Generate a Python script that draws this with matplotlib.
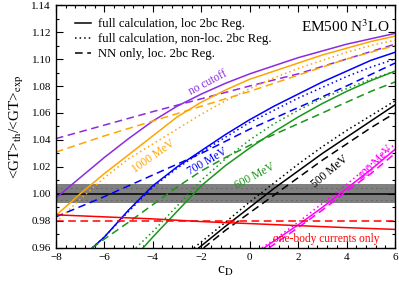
import matplotlib
matplotlib.use("Agg")
import matplotlib.pyplot as plt
from matplotlib.lines import Line2D
from matplotlib.ticker import MultipleLocator

plt.rcParams["font.family"] = ["Liberation Serif", "DejaVu Serif"]
plt.rcParams["mathtext.fontset"] = "stix"

# ---- data ----
# no cutoff (purple)
x_nc = [-8, -7, -6, -5, -4, -3, -2, -1, 0, 1, 2, 3, 4, 5, 6]
y_nc_full = [0.997, 1.012, 1.027, 1.041, 1.054, 1.065, 1.074, 1.082, 1.089, 1.095, 1.101, 1.106, 1.111, 1.115, 1.119]
x_nc_nn = [-8, -6, -4, -2, 0, 2, 4, 6]
y_nc_nn = [1.041, 1.051, 1.061, 1.0705, 1.080, 1.089, 1.100, 1.111]

# 1000 MeV (orange)
x_1000 = [-8, -7, -6, -5, -4, -3, -2, -1, 0, 1, 2, 3, 4, 5, 6]
y_1000_full = [0.984, 1.000, 1.015, 1.029, 1.043, 1.057, 1.068, 1.077, 1.085, 1.091, 1.097, 1.103, 1.108, 1.113, 1.117]
y_1000_nonloc = [0.979, 0.996, 1.012, 1.026, 1.037, 1.048, 1.059, 1.069, 1.078, 1.086, 1.093, 1.099, 1.105, 1.110, 1.114]
x_1000_nn = [-8, -6, -4, -2, 0, 2, 4, 6]
y_1000_nn = [1.031, 1.043, 1.054, 1.065, 1.076, 1.088, 1.100, 1.110]

# 700 MeV (blue)
x_700 = [-6.5, -6, -5, -4, -3, -2, -1, 0, 1, 2, 3, 4, 5, 6]
y_700_full = [0.960, 0.968, 0.988, 1.006, 1.020, 1.032, 1.044, 1.055, 1.065, 1.074, 1.083, 1.091, 1.099, 1.105]
y_700_nonloc = [0.960, 0.968, 0.987, 1.005, 1.019, 1.031, 1.042, 1.053, 1.062, 1.071, 1.079, 1.087, 1.094, 1.100]
x_700_nn = [-8, -6, -4, -2, 0, 2, 4, 6]
y_700_nn = [0.983, 0.998, 1.014, 1.030, 1.048, 1.064, 1.080, 1.097]

# 600 MeV (green)
x_600 = [-4.4, -4, -3, -2, -1, 0, 1, 2, 3, 4, 5, 6]
y_600_full = [0.960, 0.968, 0.987, 1.006, 1.021, 1.034, 1.046, 1.057, 1.067, 1.076, 1.084, 1.091]
x_600_nl = [-4.7, -4, -3, -2, -1, 0, 1, 2, 3, 4, 5, 6]
y_600_nonloc = [0.960, 0.972, 0.991, 1.010, 1.026, 1.040, 1.052, 1.062, 1.071, 1.078, 1.085, 1.091]
x_600_nn = [-6.5, -6, -5, -4, -3, -2, -1, 0, 1, 2, 3, 4, 5, 6]
y_600_nn = [0.960, 0.9665, 0.979, 0.992, 1.005, 1.017, 1.027, 1.036, 1.044, 1.052, 1.060, 1.068, 1.076, 1.083]

# 500 MeV (black)
x_500 = [-2.1, -1, 0, 1, 2, 3, 4, 5, 6]
y_500_full = [0.960, 0.976, 0.990, 1.004, 1.017, 1.030, 1.042, 1.054, 1.066]
x_500_nl = [-2.3, -1, 0, 1, 2, 3, 4, 5, 6]
y_500_nonloc = [0.960, 0.979, 0.994, 1.008, 1.022, 1.035, 1.047, 1.058, 1.069]
x_500_nn = [-1.9, -1, 0, 1, 2, 3, 4, 5, 6]
y_500_nn = [0.960, 0.973, 0.986, 0.999, 1.012, 1.025, 1.037, 1.049, 1.060]

# 400 MeV (magenta)
x_400 = [0.6, 1, 2, 3, 4, 5, 6]
y_400_full = [0.960, 0.965, 0.977, 0.990, 1.004, 1.018, 1.033]
x_400_nl = [0.5, 1, 2, 3, 4, 5, 6]
y_400_nonloc = [0.960, 0.966, 0.979, 0.993, 1.007, 1.022, 1.037]
x_400_nn = [0.8, 2, 3, 4, 5, 6]
y_400_nn = [0.960, 0.975, 0.988, 1.002, 1.015, 1.030]

# one-body currents only (red)
x_1b = [-8, -6, -4, -2, 0, 2, 4, 6]
y_1b_full = [0.9845, 0.983, 0.9815, 0.9795, 0.978, 0.9765, 0.975, 0.9737]
y_1b_nn = [0.980, 0.980, 0.980, 0.980, 0.980, 0.980, 0.980, 0.980]

# experiment band
exp_val = 1.000
exp_err = 0.007

# ---- plot ----
fig = plt.figure(figsize=(3.99, 2.82), dpi=100)
ax = fig.add_axes([0.140, 0.121, 0.850, 0.861])

lw = 1.1
ax.fill_between([-8, 6], exp_val - exp_err, exp_val + exp_err, color="#808080", lw=0, zorder=1)
ax.plot([-8, 6], [exp_val + 0.0045] * 2, color="#404040", lw=0.6, ls=(0, (1, 5)), zorder=1.5)
ax.plot([-8, 6], [exp_val - 0.0045] * 2, color="#404040", lw=0.6, ls=(0, (1, 5)), zorder=1.5)
ax.axhline(exp_val, color="black", lw=lw, zorder=1.6)

purple = "#8a2be2"
orange = "#ffa500"
blue = "#0000ff"
green = "#1a961a"
magenta = "#ff00ff"
red = "#ff0000"
dot = (0, (1, 2))
dash = (0, (5, 3))

ax.plot(x_nc, y_nc_full, color=purple, lw=lw)
ax.plot(x_nc_nn, y_nc_nn, color=purple, lw=lw, ls=dash)

ax.plot(x_1000, y_1000_full, color=orange, lw=lw)
ax.plot(x_1000, y_1000_nonloc, color=orange, lw=lw, ls=dot)
ax.plot(x_1000_nn, y_1000_nn, color=orange, lw=lw, ls=dash)

ax.plot(x_700, y_700_full, color=blue, lw=lw)
ax.plot(x_700, y_700_nonloc, color=blue, lw=lw, ls=dot)
ax.plot(x_700_nn, y_700_nn, color=blue, lw=lw, ls=dash)

ax.plot(x_600, y_600_full, color=green, lw=lw)
ax.plot(x_600_nl, y_600_nonloc, color=green, lw=lw, ls=dot)
ax.plot(x_600_nn, y_600_nn, color=green, lw=lw, ls=dash)

ax.plot(x_500, y_500_full, color="black", lw=lw)
ax.plot(x_500_nl, y_500_nonloc, color="black", lw=lw, ls=dot)
ax.plot(x_500_nn, y_500_nn, color="black", lw=lw, ls=dash)

ax.plot(x_400, y_400_full, color=magenta, lw=lw)
ax.plot(x_400_nl, y_400_nonloc, color=magenta, lw=lw, ls=dot)
ax.plot(x_400_nn, y_400_nn, color=magenta, lw=lw, ls=dash)

ax.plot(x_1b, y_1b_full, color=red, lw=lw)
ax.plot(x_1b, y_1b_nn, color=red, lw=lw, ls=dash)

# curve labels
fs = 8.3
ax.text(-1.72, 1.0822, "no cutoff", color=purple, fontsize=fs, rotation=28, ha="center", va="center")
ax.text(-3.95, 1.028, "1000 MeV", color=orange, fontsize=fs, rotation=35, ha="center", va="center")
ax.text(-1.76, 1.0244, "700 MeV", color=blue, fontsize=fs, rotation=30, ha="center", va="center")
ax.text(0.22, 1.0133, "600 MeV", color=green, fontsize=fs, rotation=28, ha="center", va="center")
ax.text(3.3, 1.0165, "500 MeV", color="black", fontsize=fs, rotation=40, ha="center", va="center")
ax.text(5.2, 1.023, "400 MeV", color=magenta, fontsize=fs, rotation=47, ha="center", va="center", clip_on=True)
ax.text(3.16, 0.9667, "one-body currents only", color=red, fontsize=fs, ha="center", va="center")
ax.text(0.985, 0.91, r"EM500 N$^{3}$LO", transform=ax.transAxes, fontsize=11, ha="right", va="center")

handles = [
    Line2D([], [], color="black", lw=lw),
    Line2D([], [], color="black", lw=lw, ls=dot),
    Line2D([], [], color="black", lw=lw, ls=dash),
]
labels = ["full calculation, loc 2bc Reg.",
          "full calculation, non-loc. 2bc Reg.",
          "NN only, loc. 2bc Reg."]
ax.legend(handles, labels, loc="upper left", bbox_to_anchor=(0.055, 0.945), frameon=False,
          fontsize=9.2, handlelength=1.3, handletextpad=0.5, labelspacing=0.22,
          borderpad=0, borderaxespad=0)

ax.set_xlim(-8, 6)
ax.set_ylim(0.96, 1.14)
ax.xaxis.set_major_locator(MultipleLocator(2))
ax.xaxis.set_minor_locator(MultipleLocator(0.4))
ax.yaxis.set_major_locator(MultipleLocator(0.02))
ax.yaxis.set_minor_locator(MultipleLocator(0.01))
ax.yaxis.set_major_formatter(plt.FormatStrFormatter("%.2f"))
ax.tick_params(which="both", direction="in", top=True, right=True, labelsize=8)
ax.tick_params(which="major", length=5, width=0.8)
ax.tick_params(which="minor", length=2.5, width=0.8)
for s in ax.spines.values():
    s.set_linewidth(1.0)

ax.set_xlabel(r"c$_{\rm D}$", fontsize=11, labelpad=2)
ax.set_ylabel(r"<GT>$_{\rm th}$/<GT>$_{\rm exp}$", fontsize=11, labelpad=4)

fig.savefig("out.png", dpi=100)
